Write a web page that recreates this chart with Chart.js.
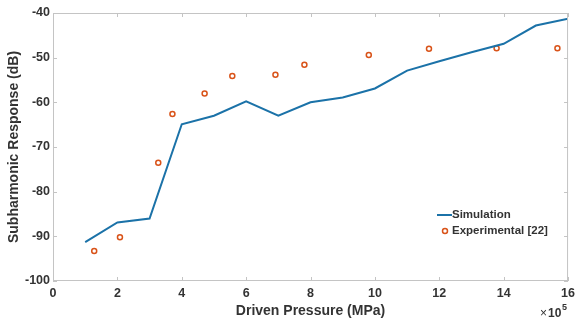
<!DOCTYPE html>
<html>
<head>
<meta charset="utf-8">
<script src="https://cdn.jsdelivr.net/npm/chart.js@4"></script>
<style>
  html, body { margin: 0; padding: 0; background: #fff; }
  #wrap { width: 580px; height: 322px; }
</style>
</head>
<body>
<div id="wrap"><canvas id="myChart" width="580" height="322"></canvas></div>
<script>
// simulation curve (x in units of 1e5 Pa)
const simX = [1, 2, 3, 4, 5, 6, 7, 8, 9, 10, 11, 12, 13, 14, 15, 16];
const simY = [-91.3, -86.9, -86.0, -64.9, -63.0, -59.8, -63.0, -60.0, -58.9, -56.9, -52.9, -50.8, -48.8, -46.9, -42.8, -41.3];

// experimental points [22]
const expX = [1.28, 2.08, 3.27, 3.71, 4.71, 5.57, 6.91, 7.81, 9.81, 11.68, 13.78, 15.67];
const expY = [-93.3, -90.2, -73.5, -62.6, -58.0, -54.1, -53.8, -51.6, -49.4, -48.0, -47.9, -47.9];

const xTicks = [0, 2, 4, 6, 8, 10, 12, 14, 16];
const yTicks = [-100, -90, -80, -70, -60, -50, -40];

const lineColor = '#1b72a8';
const dotColor = '#d95319';
const textColor = '#333333';
const frameColor = '#c4c4c4';
const fontFamily = 'Arial, "Liberation Sans", sans-serif';

// box, inner ticks, legend, exponent label
const decorations = {
    id: 'decorations',
    afterDraw(chart) {
        const c = chart.ctx;
        const a = chart.chartArea;
        const xs = chart.scales.x;
        const ys = chart.scales.y;
        const len = 4;
        c.save();
        c.strokeStyle = frameColor;
        c.lineWidth = 1;
        c.beginPath();
        xTicks.forEach(v => {
            const px = Math.round(xs.getPixelForValue(v)) + 0.5;
            c.moveTo(px, a.bottom); c.lineTo(px, a.bottom - len);
            c.moveTo(px, a.top); c.lineTo(px, a.top + len);
        });
        yTicks.forEach(v => {
            const py = Math.round(ys.getPixelForValue(v)) + 0.5;
            c.moveTo(a.left, py); c.lineTo(a.left + len, py);
            c.moveTo(a.right, py); c.lineTo(a.right - len, py);
        });
        c.stroke();
        c.strokeRect(a.left + 0.5, a.top + 0.5, a.right - a.left - 1, a.bottom - a.top - 1);

        // legend
        const ds = chart.data.datasets;
        c.font = 'bold 11.5px ' + fontFamily;
        c.fillStyle = textColor;
        c.textBaseline = 'middle';
        c.textAlign = 'left';
        const lx = 437, ly1 = 215, ly2 = 231;
        c.strokeStyle = lineColor;
        c.lineWidth = 2;
        c.beginPath();
        c.moveTo(lx, ly1); c.lineTo(lx + 15, ly1);
        c.stroke();
        c.fillText(ds[0].label, lx + 15, ly1);
        c.strokeStyle = dotColor;
        c.lineWidth = 1.5;
        c.beginPath();
        c.arc(lx + 8, ly2, 2.5, 0, Math.PI * 2);
        c.stroke();
        c.fillText(ds[1].label, lx + 15, ly2);

        // x10^5
        c.font = '12px ' + fontFamily;
        c.fillText('\u00d7', a.right - 28, 314);
        c.font = 'bold 12px ' + fontFamily;
        c.fillText('10', a.right - 20, 314);
        c.font = 'bold 9px ' + fontFamily;
        c.fillText('5', a.right - 6, 308);
        c.restore();
    }
};

const ctx = document.getElementById('myChart').getContext('2d');
const myChart = new Chart(ctx, {
    type: 'line',
    data: {
        datasets: [
            {
                label: 'Simulation',
                data: simX.map((x, i) => ({ x: x, y: simY[i] })),
                borderColor: lineColor,
                backgroundColor: lineColor,
                borderWidth: 2,
                pointRadius: 0,
                tension: 0,
            },
            {
                label: 'Experimental [22]',
                data: expX.map((x, i) => ({ x: x, y: expY[i] })),
                showLine: false,
                borderColor: dotColor,
                backgroundColor: 'rgba(255,255,255,0)',
                pointRadius: 2.5,
                pointBorderWidth: 1.5,
            },
        ],
    },
    options: {
        responsive: false,
        animation: false,
        layout: { padding: { top: 13, right: 8, left: 0, bottom: 0 } },
        plugins: {
            legend: { display: false },
            tooltip: { enabled: false },
        },
        scales: {
            x: {
                type: 'linear',
                min: 0,
                max: 16,
                afterBuildTicks: s => { s.ticks = xTicks.map(v => ({ value: v })); },
                afterFit: s => { s.height = 41; },
                grid: { display: false, drawTicks: false },
                border: { display: false },
                ticks: {
                    padding: 5,
                    color: textColor,
                    font: { family: fontFamily, size: 12.5, weight: 'bold' },
                },
                title: {
                    display: true,
                    text: 'Driven Pressure (MPa)',
                    color: textColor,
                    font: { family: fontFamily, size: 14, weight: 'bold' },
                    padding: { top: 0, bottom: 2 },
                },
            },
            y: {
                min: -100,
                max: -40,
                afterBuildTicks: s => { s.ticks = yTicks.map(v => ({ value: v })); },
                afterFit: s => { s.width = 53; },
                grid: { display: false, drawTicks: false },
                border: { display: false },
                ticks: {
                    padding: 3,
                    color: textColor,
                    font: { family: fontFamily, size: 12.5, weight: 'bold' },
                },
                title: {
                    display: true,
                    text: 'Subharmonic Response (dB)',
                    color: textColor,
                    font: { family: fontFamily, size: 14, weight: 'bold' },
                    padding: { top: 6, bottom: 0 },
                },
            },
        },
    },
    plugins: [decorations],
});
</script>
</body>
</html>
